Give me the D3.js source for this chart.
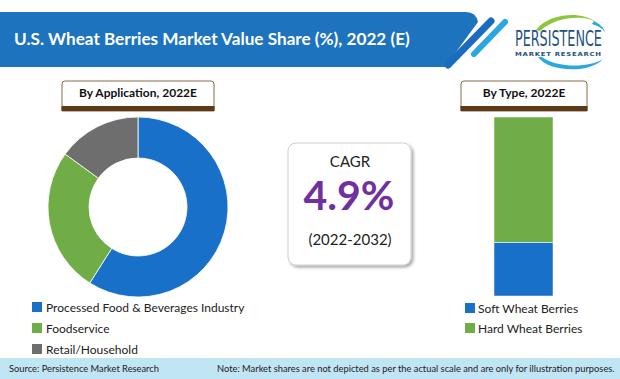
<!DOCTYPE html>
<html><head><meta charset="utf-8">
<script src="https://cdn.jsdelivr.net/npm/d3@7"></script>
<style>html,body{margin:0;padding:0;background:#fff;} svg{display:block;font-family:Lato,"Open Sans",sans-serif;}</style>
</head><body>
<svg id="c" width="620" height="379"></svg>
<script>
// ---- data ----
const titleText = "U.S. Wheat Berries Market Value Share (%), 2022 (E)";
const appTitle = "By Application, 2022E";
const appCategories = ["Processed Food & Beverages Industry", "Foodservice", "Retail/Household"];
const appValues = [59, 26, 15];
const typeTitle = "By Type, 2022E";
const typeCategories = ["Soft Wheat Berries", "Hard Wheat Berries"];
const typeValues = [30, 70];
const cagrLabel = "CAGR";
const cagrValue = "4.9%";
const cagrPeriod = "(2022-2032)";
const sourceText = "Source: Persistence Market Research";
const noteText = "Note: Market shares are not depicted as per the actual scale and are only for illustration purposes.";
const logoMain = "PERSISTENCE";
const logoSub = "MARKET RESEARCH";

const appColors = ["#1870c9", "#70ad47", "#6e6e6e"];
const typeColors = ["#1870c9", "#70ad47"];

const svg = d3.select("#c");
const defs = svg.append("defs");
const f = defs.append("filter").attr("id","sh").attr("x","-20%").attr("y","-20%").attr("width","150%").attr("height","150%");
f.append("feDropShadow").attr("dx",2).attr("dy",2).attr("stdDeviation",1.6).attr("flood-color","#000").attr("flood-opacity",0.35);

function fit(t, w){ const n=t.node(); const l=n.getComputedTextLength(); const fs=parseFloat(t.attr("font-size")); t.attr("font-size", fs*w/l); }

// ---- banner ----
svg.append("path")
  .attr("d","M0,12 L466,12 Q476,12 478,22 L445,67 L0,67 Z")
  .attr("fill","#1e73be");
svg.append("line").attr("x1",448).attr("y1",65).attr("x2",491).attr("y2",21)
  .attr("stroke","#1b6cc0").attr("stroke-width",7).attr("stroke-linecap","round");
svg.append("line").attr("x1",474).attr("y1",54).attr("x2",505).attr("y2",22)
  .attr("stroke","#2aa7e2").attr("stroke-width",6).attr("stroke-linecap","round");
const tt = svg.append("text").attr("x",14).attr("y",45).attr("fill","#fff")
  .attr("font-size",15).attr("font-weight","bold").text(titleText);
fit(tt, 396);

// ---- logo ----
const lg = svg.append("g");
lg.append("path").attr("d","M536,30 C548,14 580,10 596,22 C585,15 556,16 540,31 Z").attr("fill","#8cc63f");
lg.append("path").attr("d","M594,21 C600,24 604,28 605,32 C602,28 598,26 592,24 Z").attr("fill","#29a9e0");
lg.append("path").attr("d","M538,57 C548,72 590,74 603,59 C590,68 556,68 542,57 Z").attr("fill","#29a9e0");
const pg = lg.append("g").attr("transform","translate(515,46)");
const p1 = pg.append("text").attr("x",0).attr("y",0).attr("fill","#1f527e").attr("font-size",20.5)
  .attr("font-family","'DejaVu Sans Condensed','DejaVu Sans',sans-serif")
  .text(logoMain);
const pl = p1.node().getComputedTextLength();
pg.attr("transform",`translate(515,46) scale(${87/pl},1)`);
const sg = lg.append("g").attr("transform","translate(515,56)");
const p2 = sg.append("text").attr("x",0).attr("y",0).attr("fill","#1f527e").attr("font-size",5.5)
  .attr("font-family","'DejaVu Sans',sans-serif").attr("font-weight","bold")
  .attr("letter-spacing",0.6).text(logoSub);
const sl = p2.node().getComputedTextLength();
sg.attr("transform",`translate(515,56) scale(${87/sl},1)`);

// ---- header boxes ----
function header(x0, x1, label){
  const y0=81, y1=111;
  svg.append("path").attr("d",`M${x0},${y1} L${x0},${y0+3} Q${x0},${y0} ${x0+3},${y0} L${x1-3},${y0} Q${x1},${y0} ${x1},${y0+3} L${x1},${y1} Z`)
    .attr("fill","#fff").attr("stroke","#8a6a4a").attr("stroke-width",1);
  svg.append("rect").attr("x",x0-0.5).attr("y",y1-5).attr("width",x1-x0+1).attr("height",5).attr("fill","#5c3a17");
  svg.append("text").attr("x",(x0+x1)/2).attr("y",97).attr("text-anchor","middle")
    .attr("font-size",12).attr("font-weight","bold").attr("fill","#111").text(label);
}
header(62, 214, appTitle);
header(461, 587, typeTitle);

// ---- donut ----
const pie = d3.pie().sort(null).value(d=>d)(appValues);
const arc = d3.arc().innerRadius(49).outerRadius(90);
svg.append("g").attr("transform","translate(138,207)")
  .selectAll("path").data(pie).join("path")
  .attr("d",arc).attr("fill",(d,i)=>appColors[i]).attr("stroke","#fff").attr("stroke-width",0.8);

// legend left
const ll = svg.append("g").selectAll("g").data(appCategories).join("g")
  .attr("transform",(d,i)=>`translate(32,${302+i*21})`);
ll.append("rect").attr("width",10).attr("height",10).attr("fill",(d,i)=>appColors[i]);
ll.append("text").attr("x",14).attr("y",9.5).attr("font-size",12).attr("fill","#222").text(d=>d);

// ---- CAGR box ----
svg.append("rect").attr("x",288).attr("y",143).attr("width",123).attr("height",122).attr("rx",8)
  .attr("fill","#fff").attr("stroke","#d0d0d0").attr("stroke-width",1).attr("filter","url(#sh)");
svg.append("text").attr("x",350).attr("y",167).attr("text-anchor","middle").attr("font-size",15).attr("fill","#222").text(cagrLabel);
svg.append("text").attr("x",349).attr("y",210).attr("text-anchor","middle").attr("font-size",41)
  .attr("font-weight","bold").attr("fill","#7030a0").text(cagrValue);
svg.append("text").attr("x",350).attr("y",245).attr("text-anchor","middle").attr("font-size",15).attr("fill","#222").text(cagrPeriod);

// ---- stacked bar ----
const y = d3.scaleLinear().domain([0, d3.sum(typeValues)]).range([296, 117]);
let acc = 0;
const stacks = typeValues.map(v => { const s = {y0: acc, y1: acc + v}; acc += v; return s; });
svg.append("g").selectAll("rect").data(stacks).join("rect")
  .attr("x",494).attr("width",59)
  .attr("y",d=>y(d.y1)).attr("height",d=>y(d.y0)-y(d.y1))
  .attr("fill",(d,i)=>typeColors[i]).attr("stroke","#fff").attr("stroke-width",0.5);

const rl = svg.append("g").selectAll("g").data(typeCategories).join("g")
  .attr("transform",(d,i)=>`translate(465,${303+i*20})`);
rl.append("rect").attr("width",10).attr("height",10).attr("fill",(d,i)=>typeColors[i]);
rl.append("text").attr("x",13).attr("y",9.5).attr("font-size",12).attr("fill","#222").text(d=>d);

// ---- footer ----
svg.append("rect").attr("x",0).attr("y",358).attr("width",620).attr("height",21).attr("fill","#c0e5f5");
const st = svg.append("text").attr("x",9).attr("y",372).attr("font-size",9.5).attr("fill","#222").text(sourceText);
fit(st, 150);
const nt = svg.append("text").attr("x",217).attr("y",372).attr("font-size",9.5).attr("fill","#222").text(noteText);
fit(nt, 398);
</script>
</body></html>
